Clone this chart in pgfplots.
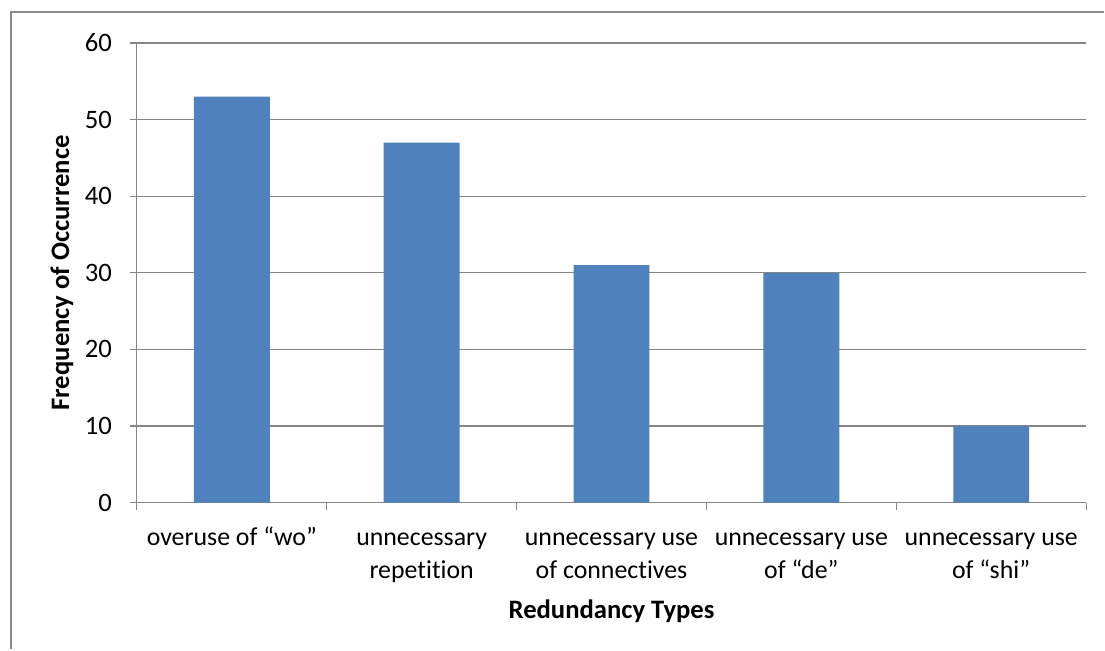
\documentclass[border=0pt]{standalone}
\usepackage{fontspec}
\setmainfont[Ligatures={NoCommon}]{Carlito}
\usepackage{pgfplots}
\pgfplotsset{compat=1.18}
\definecolor{barblue}{HTML}{4F81BD}
\definecolor{gridgray}{HTML}{868686}
\definecolor{framegray}{HTML}{8C8C8C}
\begin{document}
\begin{tikzpicture}
\path[fill=white] (0,0) rectangle (828.75pt,487.5pt);
\draw[framegray, line width=1.3pt] (8.25pt,0) -- (8.25pt,478.5pt) -- (828.75pt,478.5pt);
\begin{axis}[
  at={(102.75pt,110.25pt)}, anchor=south west,
  scale only axis,
  width=712.5pt, height=345pt,
  xmin=-0.5, xmax=4.5,
  ymin=0, ymax=60,
  ytick={0,10,...,60},
  axis lines=left,
  axis line style={-, draw=gridgray, line width=0.9pt},
  ymajorgrids,
  grid style={draw=gridgray, line width=0.9pt},
  tick align=outside,
  major tick length=5.25pt,
  tick style={draw=gridgray, line width=0.9pt},
  xtick={-0.5,0.5,...,4.5},
  xticklabels={},
  extra x ticks={0,1,2,3,4},
  extra x tick labels={\strut overuse of “wo”,\strut unnecessary\\repetition,\strut unnecessary use\\of connectives,\strut unnecessary use\\of “de”,\strut unnecessary use\\of “shi”},
  extra x tick style={major tick length=0pt, grid=none, xticklabel style={align=center, font=\fontsize{19.4}{24.6}\selectfont, anchor=north, yshift=-11.5pt}},
  /pgf/number format/assume math mode=true,
  yticklabel style={font=\fontsize{20}{24}\selectfont, xshift=-10pt},
  ylabel={\bfseries Frequency of Occurrence},
  xlabel={\bfseries Redundancy Types},
  label style={font=\fontsize{20}{24}\selectfont},
  ylabel style={at={(axis description cs:0,0.5)}, anchor=center, yshift=56.25pt},
  xlabel style={at={(axis description cs:0.5,0)}, anchor=center, yshift=-81.75pt},
  ybar, bar width=57pt,
  clip=false,
]
\addplot[fill=barblue, draw=none] coordinates {(0,53) (1,47) (2,31) (3,30) (4,10)};
\end{axis}
\end{tikzpicture}
\end{document}
